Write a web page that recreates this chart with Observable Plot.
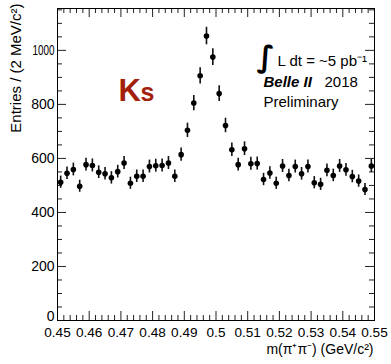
<!DOCTYPE html>
<html>
<head>
<meta charset="utf-8">
<script src="https://cdn.jsdelivr.net/npm/d3@7"></script>
<script src="https://cdn.jsdelivr.net/npm/@observablehq/plot@0.6"></script>
<style>
  html, body { margin: 0; padding: 0; background: #fff; }
  svg { display: block; }
</style>
</head>
<body>
<div id="chart"></div>
<script>
// Bin centres of the 2 MeV/c^2 bins, 0.450 - 0.550 GeV/c^2
const binCenters = d3.range(50).map(i => +(0.451 + 0.002 * i).toFixed(3));
// Entries per bin
const entries = [
  512, 545, 559, 497, 577, 574, 549, 543, 528, 551,
  583, 508, 534, 534, 570, 573, 574, 583, 534, 614,
  704, 805, 906, 1053, 975, 840, 722, 632, 577, 636,
  580, 581, 522, 546, 508, 572, 537, 570, 543, 570,
  510, 504, 556, 537, 572, 558, 533, 516, 485, 572
];
const xTicks = [0.45, 0.46, 0.47, 0.48, 0.49, 0.50, 0.51, 0.52, 0.53, 0.54, 0.55];
const xTickLabels = ["0.45", "0.46", "0.47", "0.48", "0.49", "0.5", "0.51", "0.52", "0.53", "0.54", "0.55"];
const yTicks = [0, 200, 400, 600, 800, 1000];
const yTickLabels = ["0", "200", "400", "600", "800", "1000"];
const xMinor = d3.range(0.45, 0.5501, 0.002).map(v => +v.toFixed(3)).filter(v => !xTicks.some(t => Math.abs(t - v) < 1e-6));
const yMinor = d3.range(50, 1151, 50).filter(v => v % 200 !== 0);

const data = binCenters.map((x, i) => ({x, n: entries[i], err: Math.sqrt(entries[i])}));

const W = 391, H = 364;
const mL = 57, mR = 17, mT = 8, mB = 44;
const fw = W - mL - mR, fh = H - mT - mB;
const font = "'Liberation Sans', Arial, Helvetica, sans-serif";

const chart = Plot.plot({
  width: W,
  height: H,
  marginLeft: mL,
  marginRight: mR,
  marginTop: mT,
  marginBottom: mB,
  style: {fontFamily: font, background: "#fff", color: "#000"},
  x: {domain: [0.45, 0.55]},
  y: {domain: [0, 1155]},
  marks: [
    Plot.axisX({ticks: xTicks, tickFormat: d => xTickLabels[xTicks.indexOf(d)], tickSize: 0, tickPadding: 7, fontSize: 13.6, label: null}),
    Plot.axisY({ticks: yTicks.slice(1), tickFormat: d => yTickLabels[yTicks.indexOf(d)], tickSize: 0, tickPadding: 3, fontSize: 14, label: null}),
    Plot.text([yTicks[0]], {y: d => d, text: () => yTickLabels[0], frameAnchor: "left", dx: -3, dy: -4, textAnchor: "end", fontSize: 14, fill: "#000"}),
    // inward ticks, ROOT style
    Plot.ruleX(xTicks, {x: d => d, insetTop: fh - 9, stroke: "#222"}),
    Plot.ruleX(xMinor, {x: d => d, insetTop: fh - 5, stroke: "#222"}),
    Plot.ruleX(xTicks, {x: d => d, insetBottom: fh - 9, stroke: "#222"}),
    Plot.ruleX(xMinor, {x: d => d, insetBottom: fh - 5, stroke: "#222"}),
    Plot.ruleY(yTicks, {y: d => d, insetRight: fw - 9, stroke: "#222"}),
    Plot.ruleY(yMinor, {y: d => d, insetRight: fw - 5, stroke: "#222"}),
    Plot.ruleY(yTicks, {y: d => d, insetLeft: fw - 9, stroke: "#222"}),
    Plot.ruleY(yMinor, {y: d => d, insetLeft: fw - 5, stroke: "#222"}),
    Plot.frame({stroke: "#000", strokeWidth: 1}),
    // data
    Plot.ruleX(data, {x: "x", y1: d => d.n - d.err, y2: d => d.n + d.err, stroke: "#111", strokeWidth: 1.6}),
    Plot.dot(data, {x: "x", y: "n", r: 2.8, fill: "#000", stroke: "none"}),
    // annotations
    Plot.text(["K"], {frameAnchor: "top-left", dx: 61, dy: 92, lineAnchor: "bottom", textAnchor: "start", fontSize: 31, fontWeight: "bold", fill: "#a31e0b"}),
    Plot.text(["s"], {frameAnchor: "top-left", dx: 83, dy: 92, lineAnchor: "bottom", textAnchor: "start", fontSize: 25, fontWeight: "bold", fill: "#a31e0b"}),
    Plot.text(["∫"], {frameAnchor: "top-left", dx: 199, dy: 58, lineAnchor: "bottom", textAnchor: "start", fontSize: 30, fontWeight: "bold", fontFamily: "'DejaVu Sans', sans-serif", fill: "#000"}),
    Plot.text(["L dt = ~5 pb⁻¹"], {frameAnchor: "top-left", dx: 220, dy: 57, lineAnchor: "bottom", textAnchor: "start", fontSize: 15, fill: "#000"}),
    Plot.text(["Belle II"], {frameAnchor: "top-left", dx: 206, dy: 78, lineAnchor: "bottom", textAnchor: "start", fontSize: 15, fontWeight: "bold", fontStyle: "italic", fill: "#000"}),
    Plot.text(["2018"], {frameAnchor: "top-left", dx: 267, dy: 78, lineAnchor: "bottom", textAnchor: "start", fontSize: 15, fill: "#000"}),
    Plot.text(["Preliminary"], {frameAnchor: "top-left", dx: 206, dy: 98, lineAnchor: "bottom", textAnchor: "start", fontSize: 15, fill: "#000"}),
    Plot.text(["Entries / (2 MeV/c²)"], {frameAnchor: "top-left", dx: -37, dy: -5, rotate: -90, lineAnchor: "bottom", textAnchor: "end", fontSize: 15, fill: "#000"}),
    Plot.text(["m(π⁺π⁻) (GeV/c²)"], {frameAnchor: "bottom-right", dx: -1, dy: 33, lineAnchor: "bottom", textAnchor: "end", fontSize: 14, fill: "#000"})
  ]
});

// ROOT draws the "1000" label condensed
d3.select(chart).selectAll("g[aria-label='y-axis tick label'] text").each(function() {
  if (this.textContent === "1000") {
    this.setAttribute("textLength", 22);
    this.setAttribute("lengthAdjust", "spacingAndGlyphs");
  }
});

document.getElementById("chart").appendChild(chart);
</script>
</body>
</html>
